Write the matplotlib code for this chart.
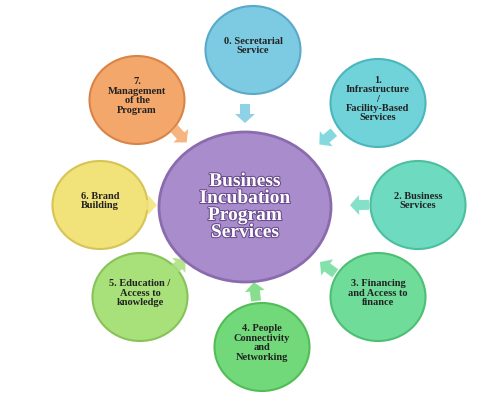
import matplotlib.pyplot as plt
from matplotlib.patches import Ellipse, FancyArrow
import matplotlib.patheffects as pe
import numpy as np

labels = ["0. Secretarial\nService", "1.\nInfrastructure\n/\nFacility-Based\nServices",
          "2. Business\nServices", "3. Financing\nand Access to\nfinance",
          "4. People\nConnectivity\nand\nNetworking", "5. Education /\nAccess to\nknowledge",
          "6. Brand\nBuilding", "7.\nManagement\nof the\nProgram"]
cx = [253, 378, 418, 378, 262, 140, 100, 137]
cy = [50, 103, 205, 297, 347, 297, 205, 100]
colors = ["#7ccbe3", "#6fd3d9", "#6edbc0", "#6fdc9a", "#72d97a", "#a8e07a", "#f2e27a", "#f4a76a"]
edges = ["#5aa9c9", "#4cb6bd", "#4cbf9f", "#4cbf75", "#52bd58", "#88c35a", "#d6c454", "#d98446"]
arrow_pos = [(245, 113), (327, 138), (360, 205), (328, 268), (255, 292), (178, 266), (147, 205), (180, 135)]
center_label = "Business\nIncubation\nProgram\nServices"

fig = plt.figure(figsize=(5, 4), dpi=100)
ax = fig.add_axes([0, 0, 1, 1])
ax.set_xlim(0, 500)
ax.set_ylim(400, 0)
ax.axis("off")

ccx, ccy = 245, 207
for i in range(len(labels)):
    ax.add_patch(Ellipse((cx[i], cy[i]), 95, 88, facecolor=colors[i], edgecolor=edges[i], lw=1.5))
    ax.text(cx[i], cy[i] - 4, labels[i], ha="center", va="center", fontsize=7.5,
            fontweight="bold", family="Liberation Serif", color="#222222", linespacing=1.05)
    ax_, ay_ = arrow_pos[i]
    d = np.array([ccx - ax_, ccy - ay_], float)
    d /= np.hypot(*d)
    ax.add_patch(FancyArrow(ax_ - d[0] * 9, ay_ - d[1] * 9, d[0] * 10, d[1] * 10,
                            width=10, head_width=20, head_length=9, length_includes_head=False,
                            facecolor=colors[i], edgecolor="none", alpha=0.85))

ax.add_patch(Ellipse((ccx, ccy), 172, 150, facecolor="#a98ccb", edgecolor="#8a6cae", lw=2))
ax.text(ccx, ccy, center_label, ha="center", va="center", fontsize=14, fontweight="bold",
        family="Liberation Serif", color="white", linespacing=1.0,
        path_effects=[pe.withStroke(linewidth=1.5, foreground="#6a4c8e")])

fig.savefig("out.png", dpi=100)
